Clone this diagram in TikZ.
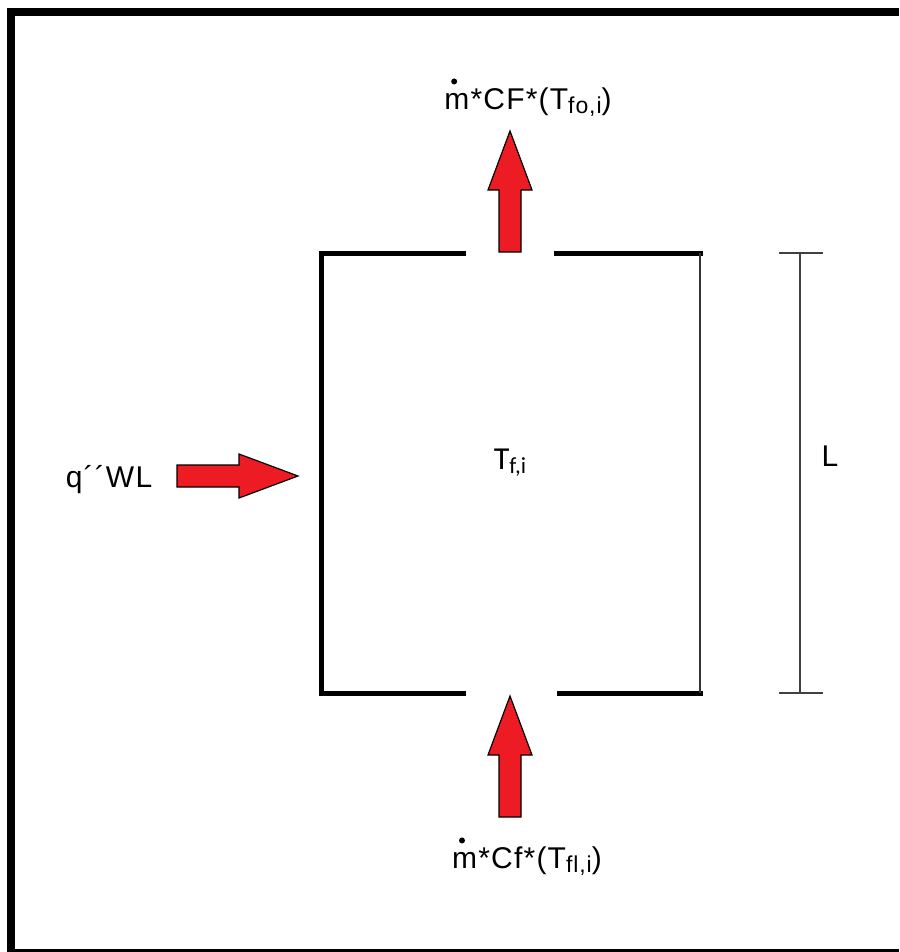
\documentclass[tikz,border=0pt]{standalone}
\usepackage{fontspec}
\setmainfont{Liberation Sans}
\newfontfamily\flowfont{Liberation Sans}[LetterSpace=4]
\newfontfamily\calfont{Carlito}
\usetikzlibrary{positioning}
\definecolor{flowred}{RGB}{237,28,36}
\newcommand{\lowsub}[1]{\raisebox{-4pt}{\fontsize{23}{23}\selectfont #1}}
\tikzset{
  wall/.style={line width=5pt,line cap=rect},
  thin wall/.style={line width=2.5pt,draw=black!80},
  dim line/.style={line width=2pt,draw=black!75},
  frame line/.style={line width=8pt},
  flow label/.style={font=\flowfont\fontsize{30}{32}\selectfont,inner sep=0pt},
  flow arrow/.pic={
    \draw[fill=flowred,line width=1.2pt,line join=miter]
      (0,-11) -- (62,-11) -- (62,-22) -- (121,0) -- (62,22) -- (62,11) -- (0,11) -- cycle;
  }
}

\begin{document}
\begin{tikzpicture}[x=1pt,y=1pt]
  \useasboundingbox (0,0) rectangle (899,-952);
  \draw[frame line] (11,-952) -- (11,-12) -- (899,-12);
  \draw[line width=3pt] (7,-950.5) -- (899,-950.5);

  \coordinate (tl) at (321,-253);
  \coordinate (bl) at (321,-693);
  \coordinate (tr) at (700,-253);
  \coordinate (br) at (700,-693);

  \draw[wall] (463,-253) -- (tl) -- (bl) -- (463,-693);
  \draw[wall] (556,-253) -- (tr);
  \draw[wall] (559,-693) -- (br);
  \draw[thin wall] (tr) -- (br);

  \draw[dim line] (800,-253) -- (800,-693);
  \foreach \y in {-253,-693}
    \draw[dim line] (779,\y) -- (823,\y);

  \pic[rotate=90] at (510,-252) {flow arrow};
  \pic[rotate=90] at (510,-817) {flow arrow};
  \pic at (177,-476) {flow arrow};

  \node[flow label] (outflow) at (528,-102) {m*CF*(T\lowsub{fo,i})};
  \node[flow label] (inflow) at (527,-861) {m*Cf*(T\lowsub{fl,i})};
  \foreach \n in {outflow,inflow}
    \fill ([shift={(10,6)}]\n.north west) circle (3);
  \node[flow label] (heat) at (109,-480) {q´´WL};
  \node[flow label,font=\calfont\fontsize{32}{34}\selectfont] (temp) at (510,-463) {T\lowsub{f,i}};
  \node[flow label] (length) at (830,-456) {L};
\end{tikzpicture}
\end{document}
